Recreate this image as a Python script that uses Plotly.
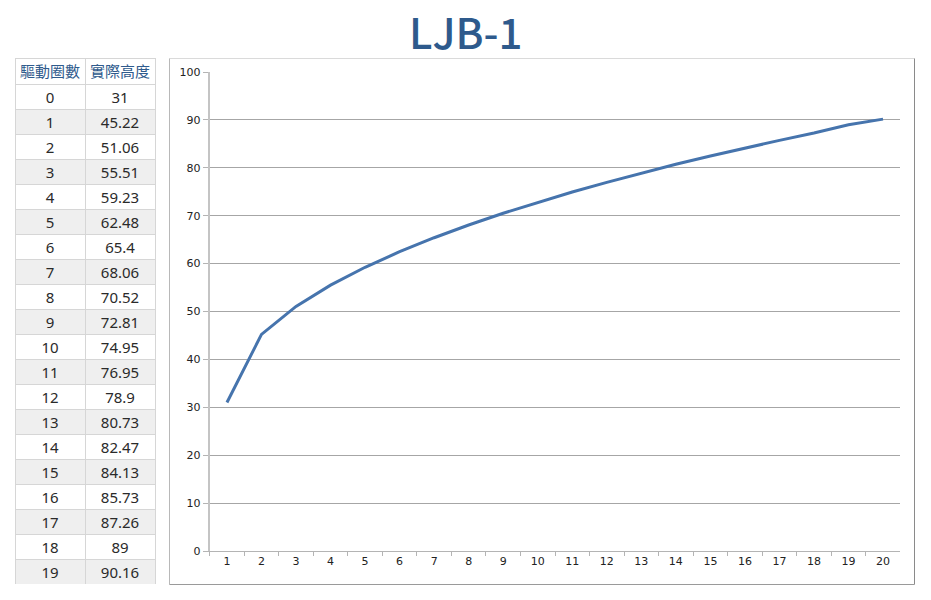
import plotly.graph_objects as go

W, H = 931, 600
turns = list(range(20))
heights = [31, 45.22, 51.06, 55.51, 59.23, 62.48, 65.4, 68.06, 70.52, 72.81,
           74.95, 76.95, 78.9, 80.73, 82.47, 84.13, 85.73, 87.26, 89, 90.16]
x_labels = [str(i) for i in range(1, 21)]
headers = ["驅動圈數", "實際高度"]
title = "LJB-1"

def px_x(v):
    return v / W

def px_y(v):
    return 1 - v / H

fig = go.Figure()

row_fill = ["#ffffff" if i % 2 == 0 else "#efefef" for i in range(len(turns))]
fig.add_trace(go.Table(
    domain=dict(x=[px_x(15), px_x(155)], y=[px_y(584), px_y(58)]),
    columnwidth=[70, 70],
    header=dict(values=headers, height=26, fill_color="#ffffff",
                line_color="#d6d6d6", align="center",
                font=dict(family="Noto Sans CJK TC", size=15, color="#2f5b8d")),
    cells=dict(values=[[str(t) for t in turns], [f"{h:g}" for h in heights]],
               height=25, fill_color=[row_fill, row_fill],
               line_color="#d6d6d6", align="center",
               font=dict(family="Noto Sans", size=15, color="#2a2a2a")),
))

fig.add_trace(go.Scatter(
    x=x_labels, y=heights, mode="lines",
    line=dict(color="#4674ad", width=3), showlegend=False,
    hoverinfo="x+y",
))

bx0, bx1, by0, by1 = 169.5, 914.5, 584.5, 58.5
def edge(x0, y0, x1, y1, color):
    return dict(type="line", xref="paper", yref="paper",
                x0=px_x(x0), y0=px_y(y0), x1=px_x(x1), y1=px_y(y1),
                line=dict(color=color, width=1), layer="below")

fig.update_layout(
    width=W, height=H,
    margin=dict(l=0, r=0, t=0, b=0, autoexpand=False),
    paper_bgcolor="white", plot_bgcolor="white",
    showlegend=False,
    xaxis=dict(domain=[px_x(209.7), px_x(900.3)], type="category",
               range=[-0.5, 19.5], automargin=False,
               tickson="boundaries", ticks="outside", ticklen=4,
               tickcolor="#b4b4b4", showline=True, linecolor="#b4b4b4",
               linewidth=1, showgrid=False,
               tickfont=dict(family="DejaVu Sans", size=11, color="#222222")),
    yaxis=dict(domain=[px_y(551), px_y(72)], range=[0, 100], dtick=10,
               automargin=False,
               ticks="outside", ticklen=5, tickcolor="#b4b4b4",
               showline=True, linecolor="#c4c4c4", linewidth=2,
               gridcolor="#a6a6a6", gridwidth=1, zeroline=False,
               tickfont=dict(family="DejaVu Sans", size=11, color="#222222")),
    shapes=[
        edge(bx0, by1, bx1, by1, "#dadada"),
        edge(bx0, by0, bx0, by1, "#b8b8b8"),
        edge(bx1, by0, bx1, by1, "#8a8a8a"),
        edge(bx0, by0, bx1, by0, "#9a9a9a"),
    ],
    annotations=[dict(text=title, x=px_x(465), y=px_y(31),
                      xref="paper", yref="paper", showarrow=False,
                      xanchor="center", yanchor="middle",
                      font=dict(family="Noto Sans CJK TC", size=42,
                                weight=500, color="#2e5a8c"))],
)

post = (
    "document.documentElement.style.margin='0';"
    "document.documentElement.style.height='600px';"
    "document.documentElement.style.overflow='hidden';"
    "document.body.style.margin='0';"
    "document.body.style.height='600px';"
    "document.body.style.overflow='hidden';"
    "var d=document.querySelector('.plotly-graph-div');"
    "d.style.position='fixed';d.style.top='0';d.style.left='0';"
)
fig.write_html("out.html", config={"displayModeBar": False}, post_script=post)
